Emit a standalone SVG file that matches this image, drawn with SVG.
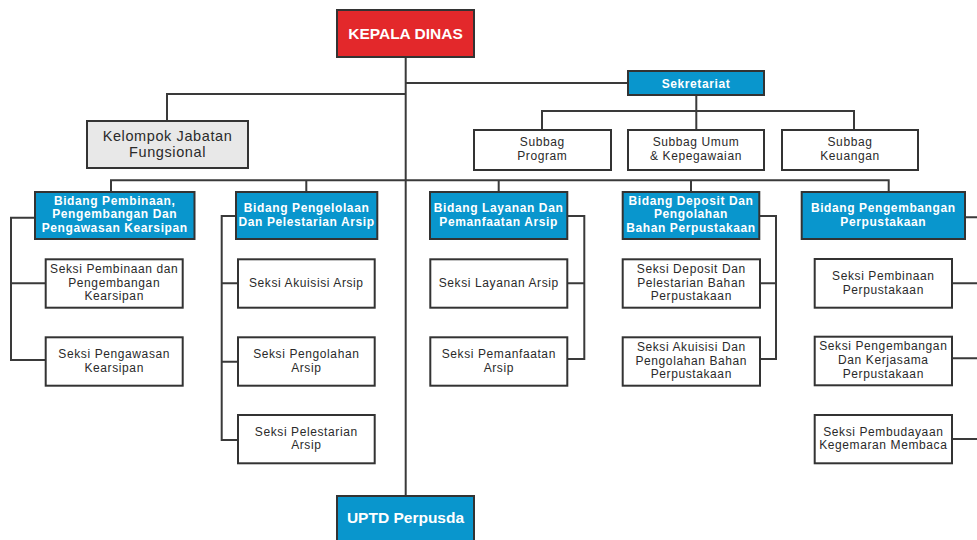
<svg xmlns="http://www.w3.org/2000/svg" width="977" height="540" viewBox="0 0 977 540">
<style>
.box{stroke:#333;stroke-width:2}
.red{fill:#e3282b}
.blue{fill:#0996cd}
.white{fill:#fff}
.gray{fill:#e8e8e8}
.tw{font-family:"Liberation Sans",Arial,sans-serif;font-weight:bold;fill:#fff;text-anchor:middle;font-size:12px;letter-spacing:0.6px}
.td{font-family:"Liberation Sans",Arial,sans-serif;fill:#2a2a2a;text-anchor:middle;font-size:12px;letter-spacing:0.6px}
.big{font-size:15.5px;letter-spacing:0}
.conn{fill:none;stroke:#3a3a3a;stroke-width:2}
</style>
<rect width="977" height="540" fill="#fff"/>
<g id="connectors" class="conn">
<path d="M405.7 57V496"/>
<path d="M405.7 83H628"/>
<path d="M405.7 94H167V121"/>
<path d="M696.3 95V111M542 130V111H854V130M696.3 111V130"/>
<path d="M111 192V180.3H888.7V192M306.3 180.3V192M498.7 180.3V192M691 180.3V192"/>
<path d="M35 217.7H11V360H45.7M11 283.3H45.7"/>
<path d="M236 216H221.7V440H238M221.7 283.3H238M221.7 361.7H238"/>
<path d="M567 216H584.3V359H567.3M584.3 283.3H567.3"/>
<path d="M759.3 216H776V359H760M776 283.3H760"/>
<path d="M965 217.3H977M952 283.3H977M952 358.3H977M952 439H977"/>
</g>
<g id="kepala"><rect class="box red" x="337" y="10" width="137" height="47"/><text class="tw big" x="405.5" y="39.3">KEPALA DINAS</text></g>
<g id="sekretariat"><rect class="box blue" x="628" y="71" width="136" height="24"/><text class="tw" x="696" y="87.5">Sekretariat</text></g>
<g id="kelompok"><rect class="box gray" x="87" y="121" width="161" height="47"/><text class="td" style="font-size:14.5px"><tspan x="167.5" y="140.5">Kelompok Jabatan</tspan><tspan x="167.5" y="157">Fungsional</tspan></text></g>
<g id="subbag-program"><rect class="box white" x="474" y="130" width="137" height="40"/><text class="td"><tspan x="542.3" y="146.1">Subbag</tspan><tspan x="542.3" y="159.9">Program</tspan></text></g>
<g id="subbag-umum"><rect class="box white" x="628" y="130" width="136" height="40"/><text class="td"><tspan x="696" y="146.1">Subbag Umum</tspan><tspan x="696" y="159.9">&amp; Kepegawaian</tspan></text></g>
<g id="subbag-keuangan"><rect class="box white" x="782" y="130" width="136" height="40"/><text class="td"><tspan x="850" y="146.1">Subbag</tspan><tspan x="850" y="159.9">Keuangan</tspan></text></g>
<g id="bidang1"><rect class="box blue" x="35" y="192" width="159.5" height="47"/><text class="tw"><tspan x="114.7" y="204.5">Bidang Pembinaan,</tspan><tspan x="114.7" y="218.3">Pengembangan Dan</tspan><tspan x="114.7" y="232.1">Pengawasan Kearsipan</tspan></text></g>
<g id="bidang2"><rect class="box blue" x="236" y="192" width="141.3" height="47"/><text class="tw"><tspan x="306.6" y="212.1">Bidang Pengelolaan</tspan><tspan x="306.6" y="225.9">Dan Pelestarian Arsip</tspan></text></g>
<g id="bidang3"><rect class="box blue" x="430" y="192" width="137.3" height="47"/><text class="tw"><tspan x="498.6" y="212.1">Bidang Layanan Dan</tspan><tspan x="498.6" y="225.9">Pemanfaatan Arsip</tspan></text></g>
<g id="bidang4"><rect class="box blue" x="622.7" y="192" width="136.6" height="47"/><text class="tw"><tspan x="691" y="204.5">Bidang Deposit Dan</tspan><tspan x="691" y="218.3">Pengolahan</tspan><tspan x="691" y="232.1">Bahan Perpustakaan</tspan></text></g>
<g id="bidang5"><rect class="box blue" x="801.7" y="192" width="163.3" height="47"/><text class="tw"><tspan x="883.3" y="212.1">Bidang Pengembangan</tspan><tspan x="883.3" y="225.9">Perpustakaan</tspan></text></g>
<g id="seksi1a"><rect class="box white" x="45.7" y="259.3" width="137" height="48.4"/><text class="td"><tspan x="114.2" y="272.7">Seksi Pembinaan dan</tspan><tspan x="114.2" y="286.5">Pengembangan</tspan><tspan x="114.2" y="300.3">Kearsipan</tspan></text></g>
<g id="seksi1b"><rect class="box white" x="45.7" y="337.3" width="137" height="48.4"/><text class="td"><tspan x="114.2" y="357.8">Seksi Pengawasan</tspan><tspan x="114.2" y="371.6">Kearsipan</tspan></text></g>
<g id="seksi2a"><rect class="box white" x="238" y="259.3" width="136.7" height="48.4"/><text class="td" x="306.3" y="287">Seksi Akuisisi Arsip</text></g>
<g id="seksi2b"><rect class="box white" x="238" y="337.3" width="136.7" height="48.4"/><text class="td"><tspan x="306.3" y="357.8">Seksi Pengolahan</tspan><tspan x="306.3" y="371.6">Arsip</tspan></text></g>
<g id="seksi2c"><rect class="box white" x="238" y="415" width="136.7" height="48.3"/><text class="td"><tspan x="306.3" y="435.5">Seksi Pelestarian</tspan><tspan x="306.3" y="449.3">Arsip</tspan></text></g>
<g id="seksi3a"><rect class="box white" x="430.3" y="259.3" width="137" height="48.4"/><text class="td" x="498.8" y="287">Seksi Layanan Arsip</text></g>
<g id="seksi3b"><rect class="box white" x="430.3" y="337.3" width="137" height="48.4"/><text class="td"><tspan x="498.8" y="357.8">Seksi Pemanfaatan</tspan><tspan x="498.8" y="371.6">Arsip</tspan></text></g>
<g id="seksi4a"><rect class="box white" x="622.7" y="259.3" width="137.3" height="48.4"/><text class="td"><tspan x="691.3" y="272.7">Seksi Deposit Dan</tspan><tspan x="691.3" y="286.5">Pelestarian Bahan</tspan><tspan x="691.3" y="300.3">Perpustakaan</tspan></text></g>
<g id="seksi4b"><rect class="box white" x="622.7" y="337.3" width="137.3" height="48.4"/><text class="td"><tspan x="691.3" y="350.7">Seksi Akuisisi Dan</tspan><tspan x="691.3" y="364.5">Pengolahan Bahan</tspan><tspan x="691.3" y="378.3">Perpustakaan</tspan></text></g>
<g id="seksi5a"><rect class="box white" x="814.7" y="259" width="137.3" height="48.7"/><text class="td"><tspan x="883.3" y="279.8">Seksi Pembinaan</tspan><tspan x="883.3" y="293.6">Perpustakaan</tspan></text></g>
<g id="seksi5b"><rect class="box white" x="814.7" y="336.7" width="137.3" height="48.6"/><text class="td"><tspan x="883.3" y="350.2">Seksi Pengembangan</tspan><tspan x="883.3" y="364">Dan Kerjasama</tspan><tspan x="883.3" y="377.8">Perpustakaan</tspan></text></g>
<g id="seksi5c"><rect class="box white" x="814.7" y="415" width="137.3" height="48.3"/><text class="td"><tspan x="883.3" y="435.5">Seksi Pembudayaan</tspan><tspan x="883.3" y="449.3">Kegemaran Membaca</tspan></text></g>
<g id="uptd"><rect class="box blue" x="337" y="496" width="137" height="50"/><text class="tw big" x="405.5" y="523">UPTD Perpusda</text></g>
</svg>
